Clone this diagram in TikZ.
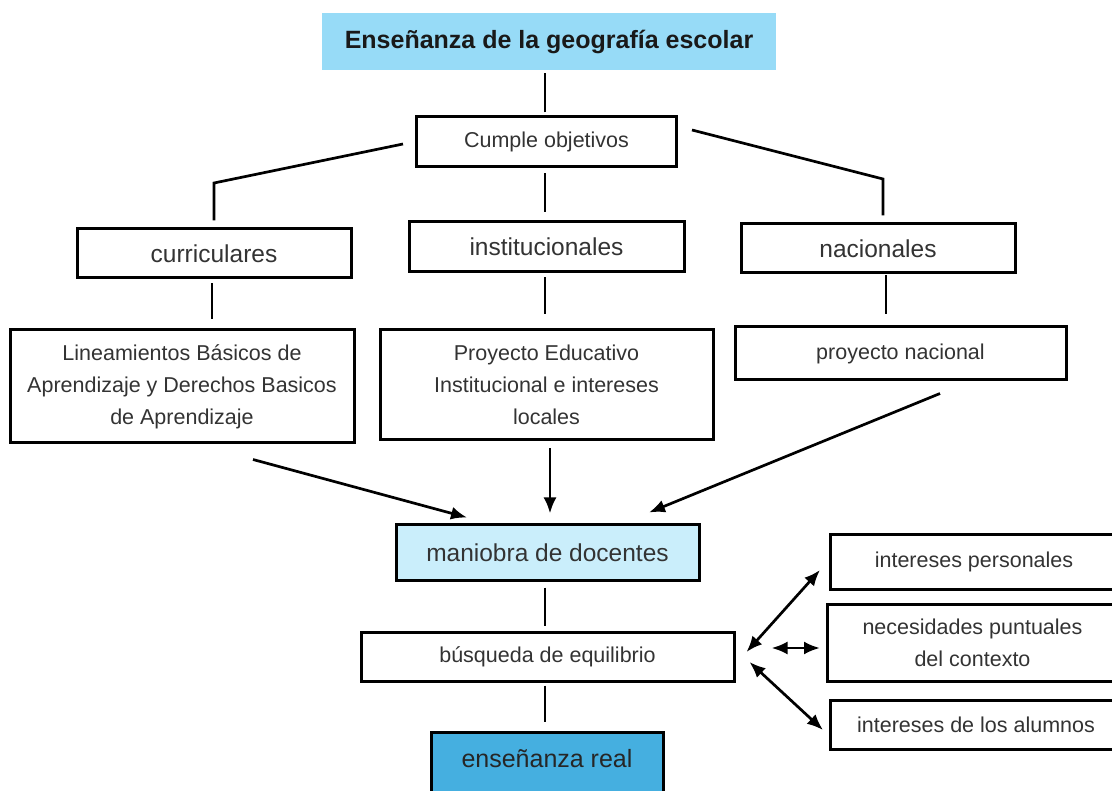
\documentclass[tikz,border=0pt]{standalone}
\usepackage{fontspec}
\setmainfont{Liberation Sans}
\usetikzlibrary{arrows.meta}
\definecolor{titlebg}{HTML}{97DBF7}
\definecolor{manbg}{HTML}{CAEEFB}
\definecolor{realbg}{HTML}{45AFE0}
\definecolor{txt}{HTML}{333333}
\begin{document}
\begin{tikzpicture}[x=1pt,y=-1pt,
  box/.style={draw=black,line width=3pt,fill=white,text=txt,align=center,inner sep=0pt,
    font=\fontsize{21.5}{32}\selectfont},
  bigtxt/.style={font=\fontsize{24.5}{30}\selectfont},
  conn/.style={line width=2.7pt},
  arr/.style={line width=2.7pt,-{Latex[length=16pt,width=13pt]}},
  darr/.style={line width=2.7pt,{Latex[length=16pt,width=13pt]}-{Latex[length=16pt,width=13pt]}}]
\useasboundingbox (0,0) rectangle (1112,791);
\fill[white] (0,0) rectangle (1112,791);
\clip (0,0) rectangle (1112,791);

% nodes
\node[fill=titlebg,text=black!90,inner sep=0pt,minimum width=454pt,minimum height=57pt,
  font=\fontsize{25}{30}\selectfont\bfseries] (title) at (549,41.5) {Enseñanza de la geografía escolar};
\node[box,minimum width=260pt,minimum height=50pt] (cumple) at (546.5,142) {Cumple objetivos};
\node[box,bigtxt,minimum width=274pt,minimum height=49pt] (curr) at (214,253.5) {curriculares};
\node[box,bigtxt,minimum width=275pt,minimum height=50pt] (inst) at (546.5,247) {institucionales};
\node[box,bigtxt,minimum width=274pt,minimum height=49pt] (nac) at (878,248.5) {nacionales};
\node[box,minimum width=344pt,minimum height=113pt] (lin) at (182,386.5)
  {Lineamientos Básicos de\\Aprendizaje y Derechos Basicos\\de Aprendizaje};
\node[box,minimum width=333pt,minimum height=110pt] (proy) at (546.5,385)
  {Proyecto Educativo\\Institucional e intereses\\locales};
\node[box,minimum width=331pt,minimum height=53pt] (pn) at (900.5,353.5) {proyecto nacional};
\node[box,bigtxt,fill=manbg,minimum width=303pt,minimum height=55pt] (man) at (547.5,552.5) {maniobra de docentes};
\node[box,minimum width=373pt,minimum height=49pt] (busq) at (547.5,656.5) {búsqueda de equilibrio};
\node[box,fill=realbg,text=black!85,minimum width=232pt,minimum height=68pt,text depth=16pt,
  font=\fontsize{25}{30}\selectfont] (real) at (547,766) {enseñanza real};
\node[box,minimum width=287pt,minimum height=54pt] (ip) at (974,562) {intereses personales};
\node[box,minimum width=290pt,minimum height=77pt] (nec) at (972.5,642.5) {necesidades puntuales\\del contexto};
\node[box,minimum width=291pt,minimum height=49pt] (alum) at (976,724.5) {intereses de los alumnos};

% tree connectors
\draw[conn,shorten <=3pt,shorten >=3pt] ([xshift=-1.5pt]cumple.north) -- ([xshift=-1.5pt]cumple.north |- title.south);
\coordinate (lj) at (214,183);
\coordinate (rj) at (883,179);
\draw[conn] ([xshift=-12pt,yshift=-2pt]cumple.west) -- (lj) -- ([yshift=7pt]curr.north -| lj);
\draw[conn] ([xshift=14pt,yshift=12pt]cumple.east) -- (rj) -- ([yshift=7pt]nac.north -| rj);
\draw[conn,shorten <=5pt,shorten >=8pt] ([xshift=-1.5pt]cumple.south) -- ([xshift=-1.5pt]cumple.south |- inst.north);
\draw[conn,shorten <=4pt,shorten >=9pt] ([xshift=-2pt]curr.south) -- ([xshift=-2pt]curr.south |- lin.north);
\draw[conn,shorten <=4pt,shorten >=14pt] ([xshift=-1.5pt]inst.south) -- ([xshift=-1.5pt]inst.south |- proy.north);
\draw[conn,shorten <=1pt,shorten >=11pt] ([xshift=8pt]nac.south) -- ([xshift=8pt]nac.south |- pn.north);

% arrows into maniobra
\draw[arr] ([xshift=71pt,yshift=-15pt]lin.south) -- ([xshift=-80.5pt,yshift=6pt]man.north);
\draw[arr] ([xshift=3.5pt,yshift=-7pt]proy.south) -- ([xshift=2.5pt,yshift=10pt]man.north);
\draw[arr] ([xshift=39.5pt,yshift=-12pt]pn.south) -- ([xshift=101.5pt,yshift=11pt]man.north);

% lower chain
\draw[conn,shorten <=6pt,shorten >=5pt] ([xshift=-2.5pt]man.south) -- ([xshift=-2.5pt]man.south |- busq.north);
\draw[conn,shorten <=3pt,shorten >=9pt] ([xshift=-2.5pt]busq.south) -- ([xshift=-2.5pt]busq.south |- real.north);

% double arrows
\draw[darr] ([xshift=11pt,yshift=4.5pt]busq.east) -- ([xshift=-9pt,yshift=-8pt]ip.west);
\draw[darr] ([xshift=36pt,yshift=8.5pt]busq.east) -- ([xshift=-6pt,yshift=-5.5pt]nec.west);
\draw[darr] ([xshift=14pt,yshift=-5.5pt]busq.east) -- ([xshift=-6pt,yshift=-5.5pt]alum.west);
\end{tikzpicture}
\end{document}
